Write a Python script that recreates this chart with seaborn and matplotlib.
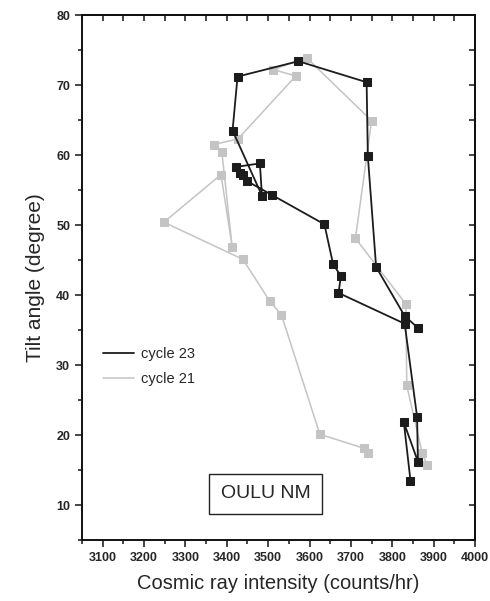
import matplotlib
matplotlib.use('Agg')
import matplotlib.pyplot as plt
from matplotlib.lines import Line2D
from matplotlib.ticker import MultipleLocator
import pandas as pd
import seaborn as sns

# Cycle 23 (black), in plotting order
cycle23_cr = [3862, 3830, 3761, 3741, 3738, 3573, 3426, 3414, 3485, 3480,
              3422, 3432, 3440, 3448, 3509, 3636, 3657, 3676, 3670, 3830,
              3860, 3862, 3828, 3844]
cycle23_tilt = [35.3, 37.0, 44.0, 59.8, 70.4, 73.4, 71.2, 63.5, 54.2, 58.8,
                58.3, 57.5, 57.1, 56.3, 54.3, 50.1, 44.4, 42.7, 40.3, 35.9,
                22.6, 16.2, 21.8, 13.5]

# Cycle 21 (grey), in plotting order
cycle21_cr = [3884, 3872, 3835, 3833, 3711, 3750, 3593, 3512, 3567, 3427,
              3369, 3388, 3413, 3386, 3248, 3439, 3504, 3532, 3625, 3732, 3742]
cycle21_tilt = [15.7, 17.5, 27.1, 38.7, 48.1, 64.9, 73.9, 72.2, 71.3, 62.3,
                61.5, 60.5, 46.9, 57.2, 50.4, 45.1, 39.1, 37.2, 20.1, 18.1, 17.5]

df23 = pd.DataFrame({'cr': cycle23_cr, 'tilt': cycle23_tilt})
df21 = pd.DataFrame({'cr': cycle21_cr, 'tilt': cycle21_tilt})

sns.set_style('ticks')
plt.rcParams['font.family'] = ['Liberation Sans', 'DejaVu Sans']

fig = plt.figure(figsize=(4.9, 6.01), dpi=100)
ax = fig.add_axes([0.1673, 0.1015, 0.8021, 0.8735])

grey = '#c4c4c4'
black = '#1c1c1c'

sns.lineplot(data=df21, x='cr', y='tilt', sort=False, estimator=None,
             color=grey, linewidth=1.1, marker='s', markersize=5.8,
             markeredgecolor=grey, ax=ax)
sns.lineplot(data=df23, x='cr', y='tilt', sort=False, estimator=None,
             color=black, linewidth=1.3, marker='s', markersize=6.3,
             markeredgecolor=black, ax=ax)

ax.set_xlim(3050, 4000)
ax.set_ylim(5, 80)
ax.xaxis.set_minor_locator(MultipleLocator(50))
ax.yaxis.set_minor_locator(MultipleLocator(5))
ax.set_xticks(range(3100, 4001, 100))
ax.set_yticks(range(10, 81, 10))

for s in ax.spines.values():
    s.set_visible(True)
    s.set_linewidth(1.4)
    s.set_color('#111111')

ax.tick_params(which='major', direction='out', length=5, width=1.2,
               labelsize=9, top=False, right=False)
ax.tick_params(which='minor', direction='out', length=3, width=1.2,
               top=False, right=False)
for lab in ax.get_xticklabels() + ax.get_yticklabels():
    lab.set_fontweight('bold')

# inward mirrored ticks on the right and top
sec_y = ax.secondary_yaxis('right')
sec_y.yaxis.set_major_locator(MultipleLocator(5))
sec_y.tick_params(direction='in', length=4, width=1.2, labelright=False)
sec_y.spines['right'].set_linewidth(1.4)
sec_x = ax.secondary_xaxis('top')
sec_x.xaxis.set_major_locator(MultipleLocator(50))
sec_x.tick_params(direction='in', length=4, width=1.2, labeltop=False)
sec_x.spines['top'].set_linewidth(1.4)

ax.set_xlabel('Cosmic ray intensity (counts/hr)', fontsize=14.5, labelpad=7)
ax.set_ylabel('Tilt angle (degree)', fontsize=15, labelpad=8)

handles = [Line2D([], [], color=black, linewidth=1.3),
           Line2D([], [], color=grey, linewidth=1.1)]
ax.legend(handles, ['cycle 23', 'cycle 21'], loc='center left',
          bbox_to_anchor=(0.02, 0.33), frameon=False, fontsize=10.5,
          handlelength=2.1, handletextpad=0.5, labelspacing=0.75)

ax.text(0.468, 0.088, 'OULU NM', transform=ax.transAxes, fontsize=14,
        ha='center', va='center',
        bbox=dict(boxstyle='square,pad=0.6', facecolor='white',
                  edgecolor='#222222', linewidth=1.0))

fig.savefig('out.png', dpi=100)
